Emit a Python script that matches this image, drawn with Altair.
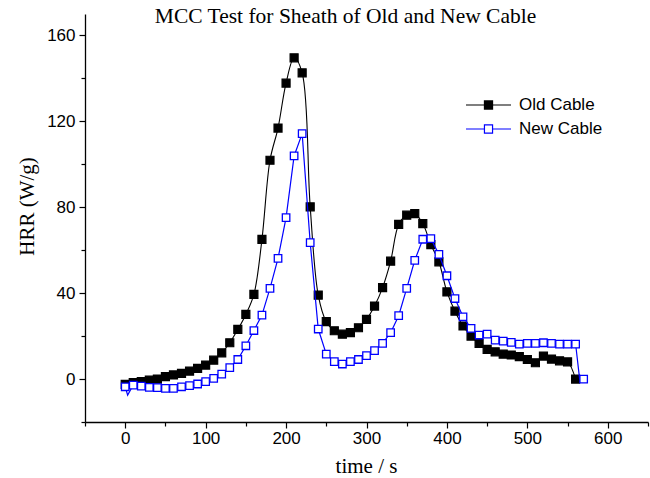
import altair as alt
import pandas as pd

# Heat release rate (W/g) vs time (s), microscale combustion calorimetry
old_t = [0, 10, 20, 30, 40, 50, 60, 70, 80, 90, 100, 110, 120, 130, 140, 150,
         160, 170, 180, 190, 200, 210, 220, 230, 240, 250, 260, 270, 280, 290,
         300, 310, 320, 330, 340, 350, 360, 370, 380, 390, 400, 410, 420, 430,
         440, 450, 460, 470, 480, 490, 500, 510, 520, 530, 540, 550, 560]
old_v = [-2.5, -1.7, -1.2, -0.5, 0.0, 1.1, 1.9, 2.6, 3.7, 5.0, 6.5, 8.8, 12.2,
         16.9, 23.1, 30.1, 39.4, 65.0, 101.9, 116.9, 137.8, 149.6, 142.6, 80.2,
         39.1, 26.7, 22.5, 20.9, 21.6, 23.9, 27.8, 34.0, 42.6, 54.9, 72.0, 76.3,
         77.0, 72.4, 62.6, 54.6, 40.6, 31.6, 24.7, 20.0, 16.6, 13.8, 12.7, 11.6,
         11.2, 10.4, 9.1, 7.6, 10.7, 9.3, 8.5, 8.0, 0.0]

new_t = [0, 10, 20, 30, 40, 50, 60, 70, 80, 90, 100, 110, 120, 130, 140, 150,
         160, 170, 180, 190, 200, 210, 220, 230, 240, 250, 260, 270, 280, 290,
         300, 310, 320, 330, 340, 350, 360, 370, 380, 390, 400, 410, 420, 430,
         440, 450, 460, 470, 480, 490, 500, 510, 520, 530, 540, 550, 560, 570]
new_v = [-3.6, -2.8, -3.3, -3.9, -4.0, -4.3, -4.3, -3.6, -3.1, -2.3, -1.2, 0.3,
         2.3, 5.3, 9.1, 15.5, 22.6, 29.8, 42.2, 56.2, 75.2, 103.9, 114.3, 63.5,
         23.3, 11.6, 8.1, 7.0, 8.1, 9.1, 10.9, 13.2, 16.6, 21.6, 29.5, 42.2,
         55.3, 65.1, 65.4, 58.1, 48.1, 37.5, 29.0, 23.6, 20.5, 20.9, 18.1, 17.7,
         17.1, 16.3, 16.6, 16.6, 16.9, 16.6, 16.3, 16.3, 16.3, 0.0]
# raw readings between markers that only show up in the trace
new_extra_t = [3, 565]
new_extra_v = [-7.5, 0.0]

series_names = ["Old Cable", "New Cable"]
stroke_colors = ["#000000", "#0000ff"]
fill_colors = ["#000000", "#ffffff"]

old_df = pd.DataFrame({"t": old_t, "v": old_v, "series": series_names[0]})
new_df = pd.DataFrame({"t": new_t, "v": new_v, "series": series_names[1]})
new_line_df = pd.concat(
    [new_df, pd.DataFrame({"t": new_extra_t, "v": new_extra_v, "series": series_names[1]})]
).sort_values("t")

x_enc = alt.X(
    "t:Q",
    scale=alt.Scale(domain=[-50, 650], nice=False, zero=False),
    axis=alt.Axis(
        title="time / s",
        values=list(range(-50, 651, 50)),
        labelExpr="datum.value % 100 === 0 && datum.value >= 0 ? datum.label : ''",
        tickSize={"condition": {"test": "datum.value % 100 === 0", "value": 6}, "value": 4},
        titleX=281, titleY=44, titleBaseline="middle",
        labelPadding=2,
    ),
)
y_enc = alt.Y(
    "v:Q",
    scale=alt.Scale(domain=[-20, 170], nice=False, zero=False),
    axis=alt.Axis(
        title="HRR (W/g)",
        values=list(range(-20, 161, 20)),
        labelExpr="datum.value % 40 === 0 ? datum.label : ''",
        tickSize={"condition": {"test": "datum.value % 40 === 0", "value": 6}, "value": 4},
        titleX=-58, titleY=192, titleBaseline="middle", titleAlign="center",
        labelPadding=4,
    ),
)

stroke_scale = alt.Scale(domain=series_names, range=stroke_colors)
fill_scale = alt.Scale(domain=series_names, range=fill_colors)

# line + square legend glyph
glyph = "M-1,0H-0.18M0.18,0H1M-0.18,-0.18H0.18V0.18H-0.18Z"
legend = alt.Legend(
    title=None, orient="none", legendX=380, legendY=79,
    symbolType=glyph, symbolSize=2025, symbolStrokeWidth=1.2,
    clipHeight=24, rowPadding=0, labelOffset=7,
    labelFont="Liberation Sans", labelFontSize=17, labelColor="#000000",
)

line_old = alt.Chart(old_df).mark_line(
    interpolate="catmull-rom", color="#000000", strokeWidth=1.1
).encode(x=x_enc, y=y_enc)

pts_old = alt.Chart(old_df).mark_point(
    shape="square", size=64, filled=False, strokeWidth=1.2, opacity=1
).encode(
    x=x_enc, y=y_enc,
    fill=alt.Fill("series:N", scale=fill_scale, legend=legend),
    stroke=alt.Stroke("series:N", scale=stroke_scale, legend=legend),
)

line_new = alt.Chart(new_line_df).mark_line(
    color="#0000ff", strokeWidth=1.2
).encode(x=x_enc, y=y_enc)

pts_new = alt.Chart(new_df).mark_point(
    shape="square", size=56, filled=False, strokeWidth=1.3, opacity=1
).encode(
    x=x_enc, y=y_enc,
    fill=alt.Fill("series:N", scale=fill_scale, legend=legend),
    stroke=alt.Stroke("series:N", scale=stroke_scale, legend=legend),
)

chart = alt.layer(line_old, pts_old, line_new, pts_new).properties(
    width=563, height=408,
    autosize="none",
    padding={"left": 85, "top": 14, "right": 2, "bottom": 56},
    title=alt.TitleParams(
        "MCC Test for Sheath of Old and New Cable",
        font="Liberation Serif", fontSize=21.5, fontWeight="normal",
        color="#000000", anchor="middle", dx=-21, dy=17,
    ),
).configure_view(stroke=None).configure_axis(
    domainColor="#000000", domainWidth=1.3, tickColor="#000000", tickWidth=1.2,
    labelFont="Liberation Sans", labelFontSize=17, labelColor="#000000",
    titleFont="Liberation Serif", titleFontSize=21, titleFontWeight="normal",
    titleColor="#000000", grid=False,
)

chart.save("out.html", embed_options={"renderer": "svg", "actions": False})
